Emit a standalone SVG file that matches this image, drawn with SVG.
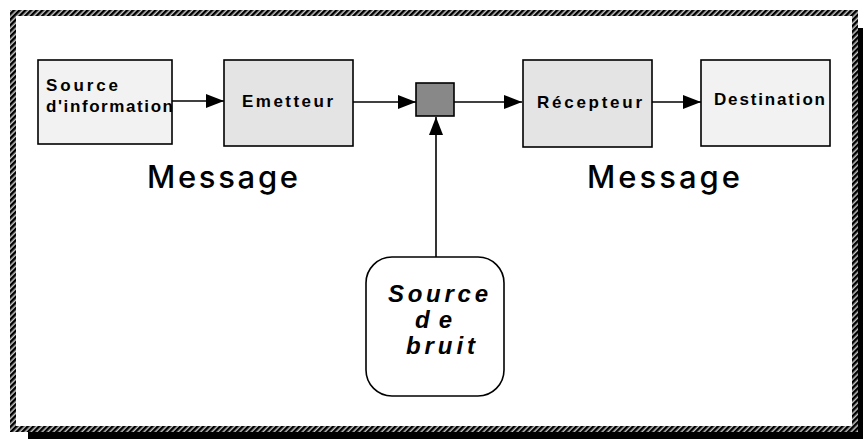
<svg xmlns="http://www.w3.org/2000/svg" width="863" height="441" viewBox="0 0 863 441">
  <defs>
    <pattern id="hatch" width="4" height="4" patternUnits="userSpaceOnUse" patternTransform="rotate(45)">
      <rect width="4" height="4" fill="#c8c8c8"/>
      <rect width="2.5" height="4" fill="#000"/>
    </pattern>
    <marker id="arrow" viewBox="0 0 18 14" refX="18" refY="7" markerWidth="18" markerHeight="14" markerUnits="userSpaceOnUse" orient="auto">
      <path d="M0,0 L18,7 L0,14 z" fill="#000"/>
    </marker>
    <style>
      .box { stroke: #000; stroke-width: 1.6; }
      .light { fill: #f2f2f2; }
      .mid { fill: #e4e4e4; }
      .lbl { font-family: "Liberation Sans", Arial, sans-serif; font-weight: bold; font-size: 17px; fill: #000; }
      .msg { font-family: Inter, "DejaVu Sans", sans-serif; font-weight: 500; font-size: 31px; fill: #000; }
      .noise { font-family: "Liberation Sans", Arial, sans-serif; font-style: italic; font-weight: bold; font-size: 24px; fill: #000; }
      .conn line { stroke: #000; stroke-width: 1.6; marker-end: url(#arrow); }
    </style>
  </defs>

  <rect width="863" height="441" fill="#fff"/>

  <!-- frame with drop shadow -->
  <g id="frame">
    <rect x="858" y="28" width="6" height="411" fill="#000"/>
    <rect x="28" y="432" width="836" height="7" fill="#000"/>
    <rect x="13" y="13" width="842" height="416" fill="none" stroke="url(#hatch)" stroke-width="6"/>
  </g>

  <!-- connectors -->
  <g id="connectors" class="conn">
    <line x1="172" y1="101" x2="224" y2="101"/>
    <line x1="353" y1="102" x2="416" y2="102"/>
    <line x1="454" y1="102" x2="522" y2="102"/>
    <line x1="652" y1="102" x2="701" y2="102"/>
    <line x1="436" y1="257" x2="436" y2="117"/>
  </g>

  <g id="source-information">
    <rect class="box light" x="38" y="60" width="134" height="84"/>
    <text class="lbl" x="46" y="91" textLength="72" lengthAdjust="spacing">Source</text>
    <text class="lbl" x="46" y="112" textLength="127" lengthAdjust="spacing">d'information</text>
  </g>

  <g id="emetteur">
    <rect class="box mid" x="224" y="60" width="129" height="86"/>
    <text class="lbl" x="242" y="107" textLength="91" lengthAdjust="spacing">Emetteur</text>
  </g>

  <g id="canal">
    <rect class="box" x="416" y="83" width="38" height="33" fill="#888"/>
  </g>

  <g id="recepteur">
    <rect class="box mid" x="523" y="60" width="129" height="87"/>
    <text class="lbl" x="537" y="108" textLength="105" lengthAdjust="spacing">Récepteur</text>
  </g>

  <g id="destination">
    <rect class="box light" x="701" y="60" width="129" height="86"/>
    <text class="lbl" x="714" y="105" textLength="111" lengthAdjust="spacing">Destination</text>
  </g>

  <g id="message-emission">
    <text class="msg" x="147" y="188" textLength="151" lengthAdjust="spacing">Message</text>
  </g>

  <g id="message-reception">
    <text class="msg" x="587" y="188" textLength="153" lengthAdjust="spacing">Message</text>
  </g>

  <g id="source-bruit">
    <rect class="box" x="366" y="257" width="138" height="139" rx="26" ry="26" fill="#fff"/>
    <text class="noise" x="388" y="302" textLength="100" lengthAdjust="spacing">Source</text>
    <text class="noise" x="415" y="328" textLength="37" lengthAdjust="spacing">d e</text>
    <text class="noise" x="406" y="354" textLength="69" lengthAdjust="spacing">bruit</text>
  </g>
</svg>
